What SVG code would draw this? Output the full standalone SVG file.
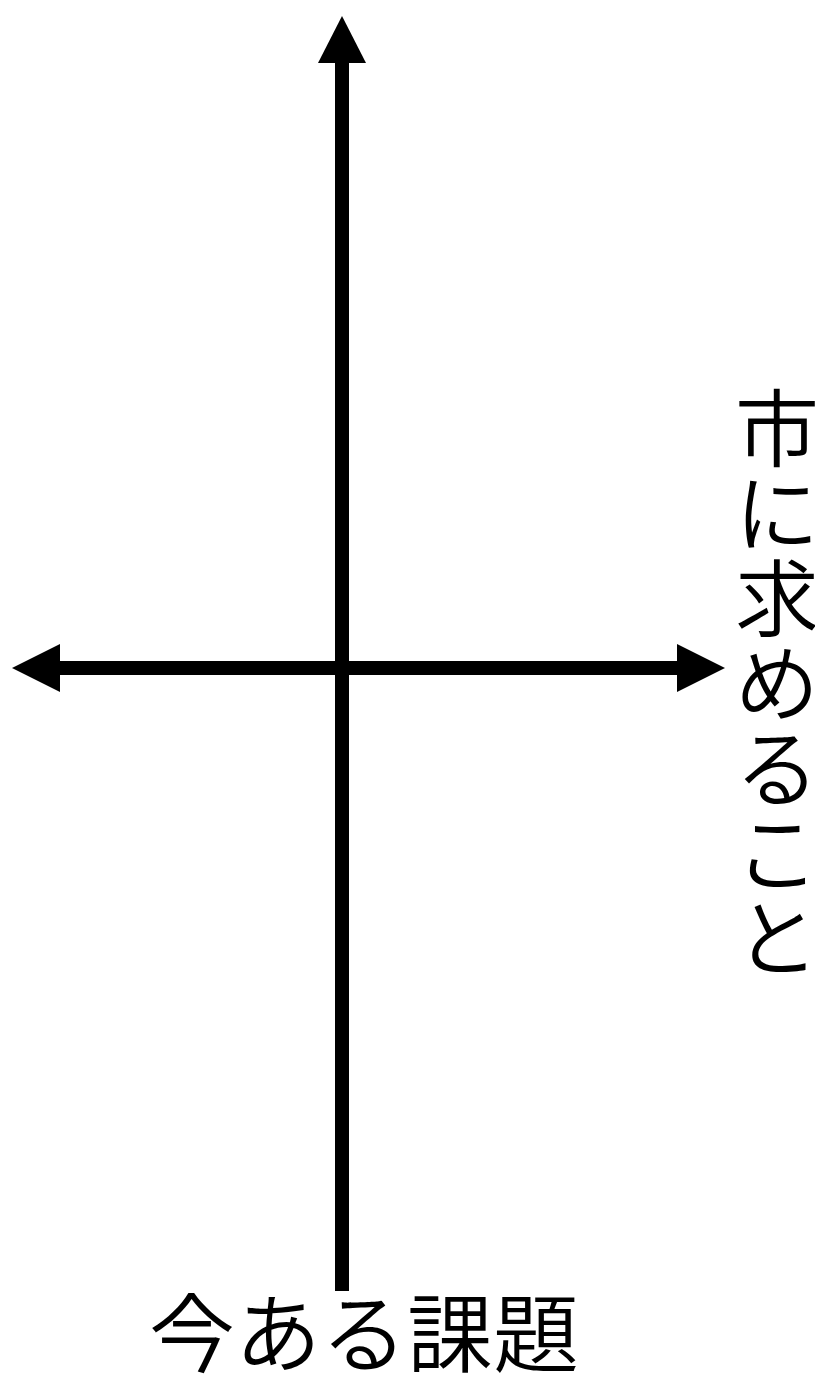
<svg xmlns="http://www.w3.org/2000/svg" width="815" height="1378" viewBox="0 0 815 1378">
<style>
.ax{stroke:#000;stroke-width:14;fill:none}
.hd{fill:#000}
.t{font-family:"Noto Sans CJK JP","Noto Sans CJK SC",sans-serif;font-weight:350;fill:#000}
</style>
<rect width="815" height="1378" fill="#fff"/>
<g id="connectors">
<line class="ax" x1="342" y1="60" x2="342" y2="1291"/>
<polygon class="hd" points="342,16 318,63 366,63"/>
<line class="ax" x1="58" y1="668" x2="680" y2="668"/>
<polygon class="hd" points="12,668 60,644 60,692"/>
<polygon class="hd" points="725,668 677,644 677,692"/>
</g>
<g id="label-bottom">
<text class="t" x="364" y="1366" font-size="86" text-anchor="middle">今ある課題</text>
</g>
<g id="label-right">
<text class="t" font-size="84" text-anchor="middle" x="777" y="460">市</text>
<text class="t" font-size="84" text-anchor="middle" x="777" y="545">に</text>
<text class="t" font-size="84" text-anchor="middle" x="777" y="630">求</text>
<text class="t" font-size="84" text-anchor="middle" x="777" y="715">め</text>
<text class="t" font-size="84" text-anchor="middle" x="777" y="800">る</text>
<text class="t" font-size="84" text-anchor="middle" x="777" y="885">こ</text>
<text class="t" font-size="84" text-anchor="middle" x="777" y="970">と</text>
</g>
</svg>
